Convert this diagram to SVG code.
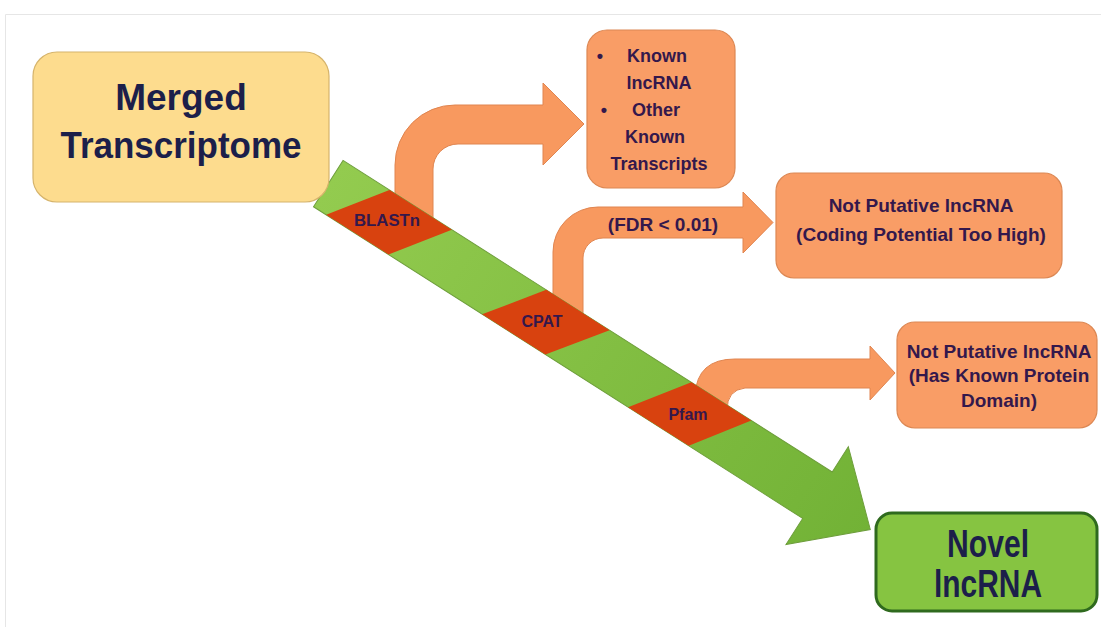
<svg xmlns="http://www.w3.org/2000/svg" width="1101" height="627" viewBox="0 0 1101 627">
<defs>
<linearGradient id="gband" x1="0" y1="0" x2="1" y2="0">
<stop offset="0" stop-color="#93CB4F"/>
<stop offset="1" stop-color="#72B236"/>
</linearGradient>
<style>
.t{font-family:"Liberation Sans",Arial,sans-serif;font-weight:bold;text-anchor:middle}
.navy{fill:#1C1F4A}
.purp{fill:#34184C}
.obox{fill:#F99D66;stroke:#DC8854;stroke-width:1.2}
.oarr{fill:#F8995F;stroke:#E08550;stroke-width:1}
.red{fill:#D8420F}
</style>
</defs>
<rect x="0" y="0" width="1101" height="627" fill="#ffffff"/>
<path d="M5.5,627 L5.5,14.5 L1101,14.5" fill="none" stroke="#e6e6e6" stroke-width="1"/>

<g id="connectors">
<path class="oarr" d="M395,235 L395,165 A60,60 0 0 1 455,105 L543,105 L543,83 L584,124 L543,165 L543,144 L458,144 A25,25 0 0 0 433,169 L433,235 Z"/>
<path class="oarr" d="M553,330 L553,252 A45,45 0 0 1 598,207 L743,207 L743,192 L773,222.5 L743,253 L743,238 L603,238 A20,20 0 0 0 583,258 L583,330 Z"/>
<text class="t purp" x="663" y="231" font-size="19">(FDR &lt; 0.01)</text>
<path class="oarr" d="M695,410 L695,395 Q697,359 735,359 L870,359 L870,346 L895,373 L870,400 L870,388 L745,388 Q727,390 727,410 Z"/>
<g id="pipeline" transform="translate(328,184) rotate(32.5)">
<path d="M0,-28 L580,-28 L580,-58 L643,0 L580,58 L580,27 L0,27 Z" fill="url(#gband)" stroke="#6E9E3C" stroke-width="1"/>
<path class="red" d="M55,-28 L129,-28 L89,27 L15,27 Z"/>
<path class="red" d="M241,-28 L316,-28 L275,27 L200,27 Z"/>
<path class="red" d="M413,-28 L484,-28 L445,27 L373,27 Z"/>
</g>
</g>

<g id="blastn"><text class="t purp" x="387" y="226" font-size="16" textLength="66" lengthAdjust="spacingAndGlyphs">BLASTn</text></g>
<g id="cpat"><text class="t purp" x="542" y="327" font-size="16">CPAT</text></g>
<g id="pfam"><text class="t purp" x="688" y="420" font-size="16">Pfam</text></g>

<g id="merged">
<rect x="33" y="52" width="296" height="150" rx="24" fill="#FDDC8E" stroke="#D6B46C" stroke-width="1.2"/>
<text class="t navy" x="181" y="110" font-size="37">Merged</text>
<text class="t navy" x="181" y="158" font-size="37" textLength="241" lengthAdjust="spacingAndGlyphs">Transcriptome</text>
</g>

<g id="known">
<rect class="obox" x="587" y="30" width="148" height="158" rx="20"/>
<text class="t purp" x="600" y="62" font-size="18">•</text>
<text class="t purp" x="657" y="62" font-size="18">Known</text>
<text class="t purp" x="659" y="89" font-size="18">lncRNA</text>
<text class="t purp" x="604" y="116" font-size="18">•</text>
<text class="t purp" x="656" y="116" font-size="18">Other</text>
<text class="t purp" x="655" y="143" font-size="18">Known</text>
<text class="t purp" x="659" y="170" font-size="18">Transcripts</text>
</g>

<g id="coding">
<rect class="obox" x="776" y="173" width="286" height="105" rx="18"/>
<text class="t purp" x="921" y="212" font-size="19">Not Putative lncRNA</text>
<text class="t purp" x="921" y="241" font-size="19">(Coding Potential Too High)</text>
</g>

<g id="protein">
<rect class="obox" x="897" y="322" width="200" height="106" rx="18"/>
<text class="t purp" x="999" y="358" font-size="19">Not Putative lncRNA</text>
<text class="t purp" x="999" y="382" font-size="19">(Has Known Protein</text>
<text class="t purp" x="999" y="407" font-size="19">Domain)</text>
</g>

<g id="novel">
<rect x="876" y="513" width="221" height="98" rx="16" fill="#86C441" stroke="#2F6A1E" stroke-width="3"/>
<text class="t navy" x="988" y="557" font-size="38" textLength="82" lengthAdjust="spacingAndGlyphs">Novel</text>
<text class="t navy" x="988" y="597" font-size="38" textLength="108" lengthAdjust="spacingAndGlyphs">lncRNA</text>
</g>
</svg>
